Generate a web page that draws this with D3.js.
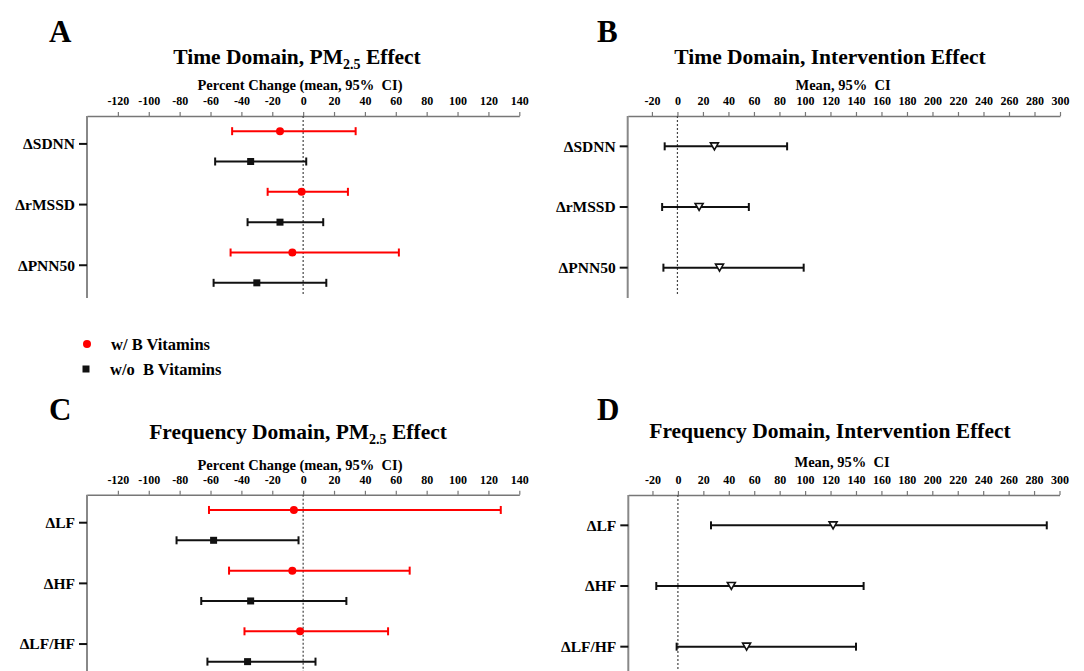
<!DOCTYPE html>
<html>
<head>
<meta charset="utf-8">
<script src="https://d3js.org/d3.v7.min.js"></script>
<style>
  body { margin: 0; background: #fff; }
  svg text { font-family: "Liberation Serif", "Times New Roman", serif; font-weight: bold; fill: #000; }
  .pre { white-space: pre; }
</style>
</head>
<body>
<script>
// categories and ticks
var timeCats = ["ΔSDNN", "ΔrMSSD", "ΔPNN50"];
var freqCats = ["ΔLF", "ΔHF", "ΔLF/HF"];
var pmTicks = [-120, -100, -80, -60, -40, -20, 0, 20, 40, 60, 80, 100, 120, 140];
var intTicks = [-20, 0, 20, 40, 60, 80, 100, 120, 140, 160, 180, 200, 220, 240, 260, 280, 300];

// each row: [mean, lower 95% CI, upper 95% CI]
var timeWithB    = [[-15, -46, 34], [-1, -23, 29], [-7, -47, 62]];
var timeWithoutB = [[-34, -57, 2], [-15, -36, 13], [-30, -58, 15]];
var timeInterv   = [[29, -10, 86], [17, -12, 56], [33, -11, 99]];
var freqWithB    = [[-6, -61, 128], [-7, -48, 69], [-2, -38, 55]];
var freqWithoutB = [[-58, -82, -3], [-34, -66, 28], [-36, -62, 8]];
var freqInterv   = [[122, 26, 290], [42, -17, 146], [54, -1, 140]];

var W = 1084, H = 671;
var svg = d3.select("body").append("svg").attr("width", W).attr("height", H);

function panel(o) {
    var x = d3.scaleLinear().domain(o.domain).range([o.x0, o.x1]);
    var y = d3.scaleLinear().domain([-0.5, 5.5]).range([o.yTop, o.yTop + 182]);
    var g = svg.append("g");

    // panel letter
    g.append("text").attr("x", o.letterX).attr("y", o.letterY)
     .style("font-size", "31px").text(o.letter);

    // title
    var t = g.append("text").attr("x", o.titleX).attr("y", o.titleY)
     .attr("text-anchor", "middle").style("font-size", "21.5px");
    t.append("tspan").text(o.title);
    if (o.sub) {
        t.append("tspan").attr("dy", 5).style("font-size", "14px").text(o.sub);
        t.append("tspan").attr("dy", -5).text(" Effect");
    }

    // axis title
    g.append("text").attr("class", "pre").attr("x", o.axTitleX).attr("y", o.axTitleY)
     .attr("text-anchor", "middle").style("font-size", "14.5px").text(o.axTitle);

    // x axis on top
    var ax = g.append("g").attr("transform", "translate(0," + o.yTop + ")")
      .call(d3.axisTop(x).tickValues(o.ticks).tickFormat(function (d) { return String(d); })
            .tickSize(4).tickSizeOuter(0).tickPadding(7));
    ax.select(".domain").attr("stroke", "#777").attr("stroke-width", 1.5);
    ax.selectAll(".tick line").attr("stroke", "#777").attr("stroke-width", 1.2);
    ax.selectAll(".tick text").style("font-size", "12px")
      .style("font-family", "'Liberation Serif', serif").style("font-weight", "bold");

    // y axis
    g.append("line").attr("x1", o.x0).attr("x2", o.x0)
     .attr("y1", o.yTop).attr("y2", o.yTop + 182)
     .attr("stroke", "#888").attr("stroke-width", 2);

    o.cats.forEach(function (c, i) {
        var cy = y(i * 2 + o.catOff);
        g.append("line").attr("x1", o.x0 - 8).attr("x2", o.x0)
         .attr("y1", cy).attr("y2", cy).attr("stroke", "#111").attr("stroke-width", 2);
        g.append("text").attr("x", o.x0 - 12).attr("y", cy).attr("dy", "0.35em")
         .attr("text-anchor", "end").style("font-size", "15.5px").text(c);
    });

    // zero reference
    g.append("line").attr("x1", x(0)).attr("x2", x(0))
     .attr("y1", o.yTop).attr("y2", o.yTop + 178)
     .attr("stroke", "#444").attr("stroke-width", 1.2).attr("stroke-dasharray", "2,2");

    o.series.forEach(function (s) {
        s.data.forEach(function (d, i) {
            var ry = y(i * 2 + s.off);
            var sg = g.append("g");
            sg.append("line").attr("x1", x(d[1])).attr("x2", x(d[2]))
              .attr("y1", ry).attr("y2", ry).attr("stroke", s.color).attr("stroke-width", 2);
            [d[1], d[2]].forEach(function (v) {
                sg.append("line").attr("x1", x(v)).attr("x2", x(v))
                  .attr("y1", ry - 4).attr("y2", ry + 4)
                  .attr("stroke", s.color).attr("stroke-width", 2);
            });
            if (s.symbol === "circle") {
                sg.append("circle").attr("cx", x(d[0])).attr("cy", ry).attr("r", 4).attr("fill", s.color);
            } else if (s.symbol === "square") {
                sg.append("rect").attr("x", x(d[0]) - 3.5).attr("y", ry - 3.5)
                  .attr("width", 7).attr("height", 7).attr("fill", s.color);
            } else {
                var cx = x(d[0]);
                sg.append("path")
                  .attr("d", "M" + (cx - 4) + "," + (ry - 3.5) + "L" + (cx + 4) + "," + (ry - 3.5) + "L" + cx + "," + (ry + 3.5) + "Z")
                  .attr("fill", "#fff").attr("stroke", "#111").attr("stroke-width", 1.6);
            }
        });
    });
}

panel({
    letter: "A", letterX: 49, letterY: 42,
    title: "Time Domain, PM", sub: "2.5", titleX: 297, titleY: 64,
    axTitle: "Percent Change (mean, 95%  CI)", axTitleX: 300, axTitleY: 90,
    domain: [-140, 140], x0: 87, x1: 519.3, ticks: pmTicks, yTop: 116,
    cats: timeCats, catOff: 0.42,
    series: [{ data: timeWithB, color: "#ff0000", symbol: "circle", off: 0 },
             { data: timeWithoutB, color: "#111", symbol: "square", off: 1 }]
});

panel({
    letter: "B", letterX: 597, letterY: 42,
    title: "Time Domain, Intervention Effect", titleX: 830, titleY: 64,
    axTitle: "Mean, 95%  CI", axTitleX: 843, axTitleY: 89.5,
    domain: [-39, 300], x0: 627.7, x1: 1060, ticks: intTicks, yTop: 116,
    cats: timeCats, catOff: 0.5,
    series: [{ data: timeInterv, color: "#111", symbol: "triangle", off: 0.5 }]
});

panel({
    letter: "C", letterX: 49, letterY: 419.5,
    title: "Frequency Domain, PM", sub: "2.5", titleX: 298, titleY: 438.5,
    axTitle: "Percent Change (mean, 95%  CI)", axTitleX: 300, axTitleY: 469.5,
    domain: [-140, 140], x0: 87, x1: 519.3, ticks: pmTicks, yTop: 494.8,
    cats: freqCats, catOff: 0.42,
    series: [{ data: freqWithB, color: "#ff0000", symbol: "circle", off: 0 },
             { data: freqWithoutB, color: "#111", symbol: "square", off: 1 }]
});

panel({
    letter: "D", letterX: 597, letterY: 419.5,
    title: "Frequency Domain, Intervention Effect", titleX: 830, titleY: 437.5,
    axTitle: "Mean, 95%  CI", axTitleX: 842, axTitleY: 466.5,
    domain: [-39, 300], x0: 628.3, x1: 1059.5, ticks: intTicks, yTop: 495,
    cats: freqCats, catOff: 0.5,
    series: [{ data: freqInterv, color: "#111", symbol: "triangle", off: 0.5 }]
});

// legend
var lg = svg.append("g");
lg.append("circle").attr("cx", 87).attr("cy", 344).attr("r", 4).attr("fill", "#ff0000");
lg.append("text").attr("class", "pre").attr("x", 111).attr("y", 344).attr("dy", "0.35em")
  .style("font-size", "16.5px").text("w/ B Vitamins");
lg.append("rect").attr("x", 82.5).attr("y", 365.5).attr("width", 7).attr("height", 7).attr("fill", "#111");
lg.append("text").attr("class", "pre").attr("x", 110).attr("y", 369).attr("dy", "0.35em")
  .style("font-size", "16.5px").text("w/o  B Vitamins");
</script>
</body>
</html>
